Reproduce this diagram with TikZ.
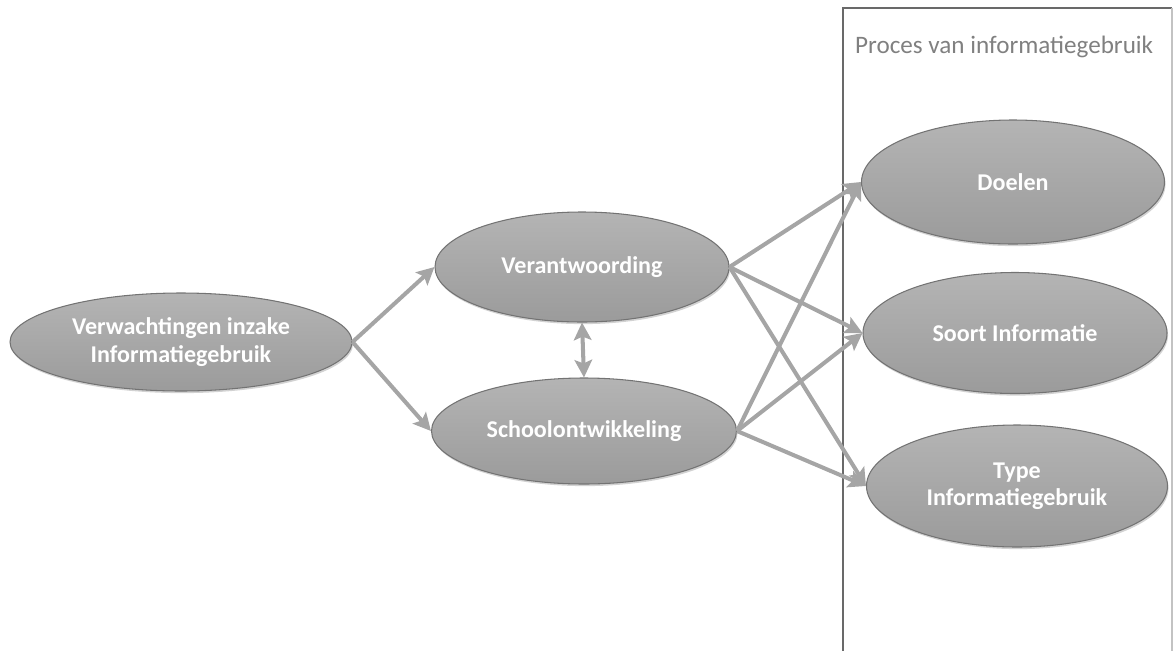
\documentclass[tikz,border=0pt]{standalone}
\usepackage{fontspec}
\setmainfont{Carlito}
\usepackage{tikz}
\usetikzlibrary{shapes,arrows.meta,positioning,shadows}
\definecolor{ovalcolor}{RGB}{155,155,155}
\definecolor{ovalrim}{RGB}{115,115,115}
\definecolor{linkcolor}{RGB}{165,165,165}
\definecolor{framecolor}{RGB}{105,105,105}

\begin{document}
\begin{tikzpicture}[
    x=0.02cm, y=-0.02cm,
    oval/.style={ellipse, draw=ovalrim, line width=0.6pt, top color=ovalcolor!75, bottom color=ovalcolor,
                 drop shadow={shadow xshift=0.6pt, shadow yshift=-1.2pt, fill=black!35},
                 inner sep=0pt, align=center, text=white, font=\fontsize{13.7}{15.5}\selectfont\bfseries},
    link/.style={-{Stealth[length=10pt, width=10pt, inset=2pt]}, linkcolor, line width=2.3pt}
]
    \useasboundingbox (0,0) rectangle (1174,650);

    % Frame
    \draw[framecolor, line width=1.5pt] (843,652) -- (843,8) -- (1172,8);
    \draw[framecolor!40, line width=0.8pt] (1172,8) -- (1172,652);
    \node[anchor=west, text=framecolor!85, font=\fontsize{14.3}{17}\selectfont] (proclabel) at (849,47) {Proces van informatiegebruik};

    % Nodes
    \node[oval, minimum width=342*0.02cm, minimum height=98*0.02cm] (verw) at (181,342) {Verwachtingen inzake\\Informatiegebruik};
    \node[oval, minimum width=294*0.02cm, minimum height=110*0.02cm] (verant) at (582,267) {Verantwoording};
    \node[oval, minimum width=305*0.02cm, minimum height=106*0.02cm] (school) at (584,431) {Schoolontwikkeling};
    \node[oval, minimum width=303*0.02cm, minimum height=124*0.02cm] (doelen) at (1013,182) {Doelen};
    \node[oval, minimum width=304*0.02cm, minimum height=121*0.02cm] (soort) at (1015,333) {Soort Informatie};
    \node[oval, minimum width=301*0.02cm, minimum height=122*0.02cm] (type) at (1017,486) {Type\\Informatiegebruik};

    % Arrows
    \draw[link] (verw.east) -- (verant.west);
    \draw[link] (verw.east) -- (school.west);
    \draw[link, {Stealth[length=10pt, width=10pt, inset=2pt]}-{Stealth[length=10pt, width=10pt, inset=2pt]}] (verant.south) -- (school.north);
    \draw[link] (verant.east) -- (doelen.west);
    \draw[link] (verant.east) -- (soort.west);
    \draw[link] (verant.east) -- (type.west);
    \draw[link] (school.east) -- (doelen.west);
    \draw[link] (school.east) -- (soort.west);
    \draw[link] (school.east) -- (type.west);
\end{tikzpicture}
\end{document}
